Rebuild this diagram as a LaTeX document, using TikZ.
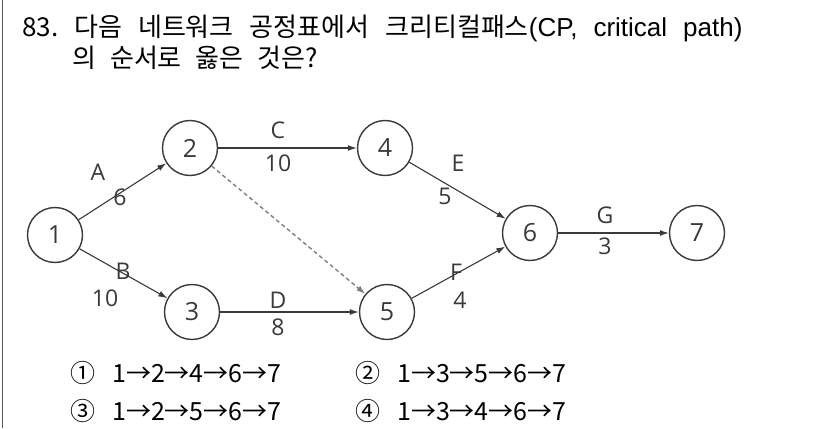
\documentclass[tikz,border=0pt]{standalone}
\usepackage{fontspec}
\setmainfont{Open Sans}
\newfontfamily\kr{Noto Sans CJK KR}
\newfontfamily\lat{Liberation Sans}
\usetikzlibrary{arrows.meta}
\definecolor{ink}{HTML}{3A3A3A}
\tikzset{
  ev/.style={circle, draw=ink, line width=1.4pt, minimum size=55pt, inner sep=0pt, font=\fontsize{25}{25}\selectfont, text=ink},
  act/.style={draw=ink, line width=1.1pt, -{Latex[length=9pt,width=6pt]}},
  dum/.style={draw=ink!65, line width=1.4pt, dash pattern=on 4pt off 3pt, -{Latex[length=9pt,width=6pt]}},
  lab/.style={font=\fontsize{23}{23}\selectfont, text=ink, inner sep=0pt},
  qtext/.style={font=\kr\fontsize{26}{28}\selectfont, anchor=base west, inner sep=0pt},
  otext/.style={font=\kr\fontsize{25}{28}\selectfont, anchor=base west, inner sep=0pt},
}
\begin{document}
\begin{tikzpicture}[x=1pt,y=-1pt]
\useasboundingbox (0,0) rectangle (826,428);
\fill[white] (0,0) rectangle (826,428);
\draw[line width=1.3pt, black!65] (2.5,0) -- (2.5,428);
\node[qtext] (q1) at (22,37) {\spaceskip=16pt 83.\hspace{16pt}다음 네트워크 공정표에서 크리티컬패스{\lat(CP, critical path)}};
\node[qtext] (q2) at (72,67) {\spaceskip=14pt 의 순서로 옳은 것은?};

\node[ev] (n1) at (55,235) {1};
\node[ev] (n2) at (190,148) {2};
\node[ev] (n3) at (192,312) {3};
\node[ev] (n4) at (385,148) {4};
\node[ev] (n5) at (387,312) {5};
\node[ev] (n6) at (530,233) {6};
\node[ev] (n7) at (697,233) {7};

\draw[act] (n1) -- (n2);
\draw[act] (n1) -- (n3);
\draw[act] (n2) -- (n4);
\draw[act] (n3) -- (n5);
\draw[act] (n4) -- (n6);
\draw[act] (n5) -- (n6);
\draw[act] (n6) -- (n7);
\draw[dum] (n2) -- (n5);

\node[lab] (la) at (98,172) {A};
\node[lab] (l6) at (120,197) {6};
\node[lab] (lb) at (123,271) {B};
\node[lab] (l10b) at (105,298) {10};
\node[lab] (lc) at (278,130) {C};
\node[lab] (l10c) at (278,163) {10};
\node[lab] (ld) at (278,300) {D};
\node[lab] (l8) at (278,327) {8};
\node[lab] (le) at (458,163) {E};
\node[lab] (l5) at (445,196) {5};
\node[lab] (lf) at (456,272) {F};
\node[lab] (l4) at (460,300) {4};
\node[lab] (lg) at (605,215) {G};
\node[lab] (l3) at (605,246) {3};

\node[otext] (o1) at (70,382) {①\hspace{17pt}1→2→4→6→7};
\node[otext] (o2) at (355,382) {②\hspace{17pt}1→3→5→6→7};
\node[otext] (o3) at (70,420) {③\hspace{17pt}1→2→5→6→7};
\node[otext] (o4) at (355,420) {④\hspace{17pt}1→3→4→6→7};
\end{tikzpicture}
\end{document}
